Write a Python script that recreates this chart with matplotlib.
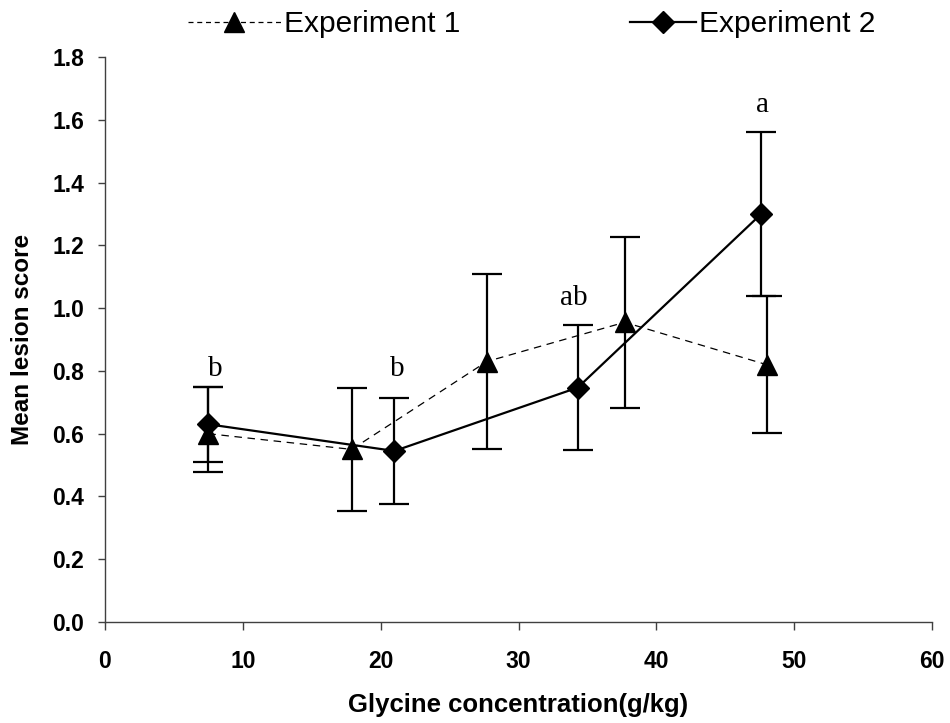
import matplotlib
matplotlib.use("Agg")
import matplotlib.pyplot as plt
from matplotlib.lines import Line2D

# Experiment 1 (triangles, dashed line)
exp1_x = [7.5, 17.9, 27.7, 37.7, 48.0]
exp1_y = [0.60, 0.55, 0.83, 0.955, 0.82]
exp1_err_low = [0.123, 0.195, 0.28, 0.272, 0.218]
exp1_err_high = [0.15, 0.195, 0.28, 0.272, 0.218]

# Experiment 2 (diamonds, solid line)
exp2_x = [7.5, 21.0, 34.3, 47.6]
exp2_y = [0.63, 0.545, 0.747, 1.30]
exp2_err = [0.12, 0.17, 0.198, 0.26]

# Significance letters
letters = ["b", "b", "ab", "a"]
letter_x = [8.0, 21.2, 34.0, 47.7]
letter_y = [0.785, 0.785, 1.01, 1.625]

x_ticks = [0, 10, 20, 30, 40, 50, 60]
y_ticks = [0.0, 0.2, 0.4, 0.6, 0.8, 1.0, 1.2, 1.4, 1.6, 1.8]

sans = "Liberation Sans"
serif = "Liberation Serif"

fig = plt.figure(figsize=(9.5, 7.23), dpi=100)
ax = fig.add_axes([0.1105, 0.1397, 0.8706, 0.7813])

dash = (0, (6, 4.5))

# lines with markers
ax.plot(exp1_x, exp1_y, color="black", linewidth=0.9, linestyle=dash,
        marker="^", markersize=15, zorder=4)
ax.plot(exp2_x, exp2_y, color="black", linewidth=1.6, linestyle="-",
        marker="D", markersize=11, zorder=5)

# error bars
ax.errorbar(exp1_x, exp1_y, yerr=[exp1_err_low, exp1_err_high], fmt="none",
            ecolor="black", elinewidth=1.6, capsize=11, capthick=1.6, zorder=3)
ax.errorbar(exp2_x, exp2_y, yerr=exp2_err, fmt="none",
            ecolor="black", elinewidth=1.6, capsize=11, capthick=1.6, zorder=3)

for t, lx, ly in zip(letters, letter_x, letter_y):
    ax.text(lx, ly, t, ha="center", va="baseline", fontsize=21,
            family=serif, color="black")

ax.set_xlim(0, 60)
ax.set_ylim(0, 1.8)
ax.set_xticks(x_ticks)
ax.set_yticks(y_ticks)
ax.set_xticklabels([str(v) for v in x_ticks], fontsize=16.5, fontweight="bold", family=sans)
ax.set_yticklabels([f"{v:.1f}" for v in y_ticks], fontsize=16.5, fontweight="bold", family=sans)
ax.tick_params(axis="both", direction="out", width=1, color="#404040")
ax.tick_params(axis="x", length=5.5, pad=15)
ax.tick_params(axis="y", length=5, pad=10)

for side in ("top", "right"):
    ax.spines[side].set_visible(False)
for side in ("left", "bottom"):
    ax.spines[side].set_color("#404040")
    ax.spines[side].set_linewidth(1)

ax.set_xlabel("Glycine concentration(g/kg)", fontsize=18.5, fontweight="bold",
              family=sans, labelpad=14)
ax.set_ylabel("Mean lesion score", fontsize=17.5, fontweight="bold",
              family=sans, labelpad=13)

# legend: two entries placed across the top
h1 = Line2D([], [], color="black", linestyle=(0, (4, 3)), linewidth=0.9,
            marker="^", markersize=15)
h2 = Line2D([], [], color="black", linestyle="-", linewidth=1.6,
            marker="D", markersize=11)
legend_y = 1 - 24 / 723
leg1 = fig.legend([h1], ["Experiment 1"], loc="center left",
                  bbox_to_anchor=(188 / 950, legend_y), frameon=False,
                  borderpad=0, borderaxespad=0, handlelength=3.1,
                  handletextpad=0.1, prop={"family": sans, "size": 21.5})
leg2 = fig.legend([h2], ["Experiment 2"], loc="center left",
                  bbox_to_anchor=(630 / 950, legend_y), frameon=False,
                  borderpad=0, borderaxespad=0, handlelength=2.2,
                  handletextpad=0.1, prop={"family": sans, "size": 21.5})

fig.savefig("out.png", dpi=100)
